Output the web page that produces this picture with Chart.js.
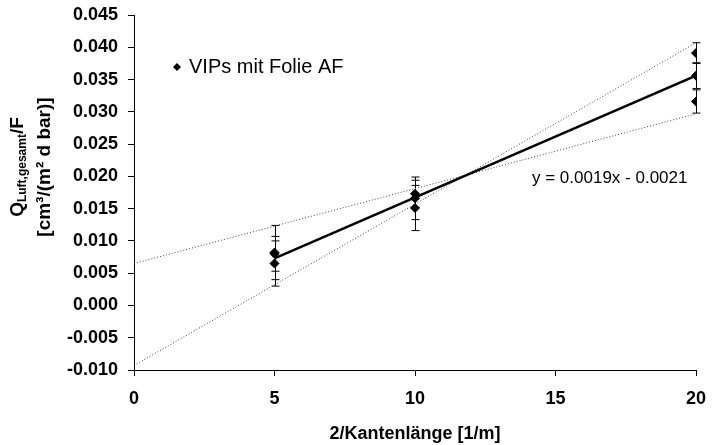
<!DOCTYPE html>
<html>
<head>
<meta charset="utf-8">
<script src="https://cdn.jsdelivr.net/npm/chart.js@4/dist/chart.umd.min.js"></script>
<style>
  html, body { margin: 0; padding: 0; background: #fff; }
  #wrap { width: 713px; height: 445px; }
</style>
</head>
<body>
<div id="wrap"><canvas id="chart" width="713" height="445"></canvas></div>
<script>
// measured points (3 samples per edge length) with their error bars
const xVals = [5, 5, 5, 10, 10, 10, 20, 20, 20];
const yVals = [0.0082, 0.0080, 0.0065, 0.0173, 0.0166, 0.0151, 0.0391, 0.0356, 0.0316];
const yErr = [0.0042, 0.0027, 0.0035, 0.0021, 0.0033, 0.0035, 0.0016, 0.0020, 0.0018];

// regression line and the two bounding (dotted) lines
const trendX = [5, 20];
const trendY = [0.0073, 0.0356];
const boundX = [0, 20];
const flatY = [0.0065, 0.0297];
const steepY = [-0.0093, 0.0407];

const xTicks = [0, 5, 10, 15, 20];
const yTicks = [-0.010, -0.005, 0.000, 0.005, 0.010, 0.015, 0.020, 0.025, 0.030, 0.035, 0.040, 0.045];

const legendLabel = 'VIPs mit Folie AF';
const equationText = 'y = 0.0019x - 0.0021';

const FONT = "'Liberation Sans', Arial, sans-serif";

function toPoints(xs, ys) {
    return xs.map((x, i) => ({ x: x, y: ys[i] }));
}

// vertical error bars with caps, drawn under the markers
const errorBars = {
    id: 'errorBars',
    beforeDatasetsDraw(chart) {
        const ctx = chart.ctx;
        const xs = chart.scales.x, ys = chart.scales.y;
        ctx.save();
        ctx.strokeStyle = '#000';
        ctx.lineWidth = 1;
        xVals.forEach((x, i) => {
            const px = Math.round(xs.getPixelForValue(x)) + 0.5;
            const top = ys.getPixelForValue(yVals[i] + yErr[i]);
            const bot = ys.getPixelForValue(yVals[i] - yErr[i]);
            ctx.beginPath();
            ctx.moveTo(px, top); ctx.lineTo(px, bot);
            ctx.moveTo(px - 4, top); ctx.lineTo(px + 4, top);
            ctx.moveTo(px - 4, bot); ctx.lineTo(px + 4, bot);
            ctx.stroke();
        });
        ctx.restore();
    }
};

// legend, equation and two-line y title with subscript
const annotations = {
    id: 'annotations',
    afterDraw(chart) {
        const ctx = chart.ctx;
        ctx.save();
        ctx.fillStyle = '#000';

        // legend
        const lx = 177, ly = 67;
        ctx.beginPath();
        ctx.moveTo(lx, ly - 4); ctx.lineTo(lx + 4, ly); ctx.lineTo(lx, ly + 4); ctx.lineTo(lx - 4, ly);
        ctx.closePath(); ctx.fill();
        ctx.font = '20px ' + FONT;
        ctx.textBaseline = 'middle';
        ctx.textAlign = 'left';
        ctx.fillText(legendLabel, 189, ly);

        // equation
        ctx.font = '17px ' + FONT;
        ctx.fillText(equationText, 532, 178);

        // y title
        const yc = 167;
        const parts = [
            { t: 'Q', f: 'bold 19px ' + FONT, dy: 0 },
            { t: 'Luft,gesamt', f: 'bold 12px ' + FONT, dy: 5 },
            { t: '/F', f: 'bold 19px ' + FONT, dy: 0 }
        ];
        let w = 0;
        parts.forEach(p => { ctx.font = p.f; p.w = ctx.measureText(p.t).width; w += p.w; });
        ctx.translate(18, yc);
        ctx.rotate(-Math.PI / 2);
        let cx = -w / 2;
        parts.forEach(p => { ctx.font = p.f; ctx.fillText(p.t, cx, p.dy); cx += p.w; });
        ctx.rotate(Math.PI / 2);
        ctx.translate(27, 0);
        ctx.rotate(-Math.PI / 2);
        ctx.font = 'bold 19px ' + FONT;
        ctx.textAlign = 'center';
        ctx.fillText('[cm³/(m² d bar)]', 0, 0);
        ctx.restore();
    }
};

const ctx = document.getElementById('chart').getContext('2d');
const chart = new Chart(ctx, {
    type: 'scatter',
    data: {
        datasets: [{
            label: legendLabel,
            data: toPoints(xVals, yVals),
            pointStyle: 'rectRot',
            pointRadius: 4.5,
            backgroundColor: '#000',
            borderColor: '#000',
            showLine: false
        }, {
            label: 'Trend',
            data: toPoints(trendX, trendY),
            showLine: true,
            borderColor: '#000',
            borderWidth: 2.5,
            pointRadius: 0
        }, {
            label: 'flat',
            data: toPoints(boundX, flatY),
            showLine: true,
            borderColor: '#444',
            borderWidth: 1,
            borderDash: [1, 2],
            pointRadius: 0
        }, {
            label: 'steep',
            data: toPoints(boundX, steepY),
            showLine: true,
            borderColor: '#444',
            borderWidth: 1,
            borderDash: [1, 2],
            pointRadius: 0
        }]
    },
    options: {
        responsive: false,
        animation: false,
        layout: { padding: { top: 15, right: 17, left: 0, bottom: 0 } },
        plugins: { legend: { display: false }, tooltip: { enabled: false } },
        scales: {
            x: {
                type: 'linear',
                min: 0,
                max: 20,
                // fixed axis box so the plot area matches the original
                afterFit: s => { s.height = 75; s.paddingLeft = 0; s.paddingRight = 0; },
                afterBuildTicks: s => { s.ticks = xTicks.map(v => ({ value: v })); },
                ticks: {
                    color: '#000',
                    padding: 12,
                    maxRotation: 0,
                    font: { family: FONT, size: 18, weight: 'bold' }
                },
                grid: { drawOnChartArea: false, drawTicks: true, tickLength: 6, color: '#000' },
                border: { display: true, color: '#000', width: 1 },
                title: {
                    display: true,
                    text: '2/Kantenlänge [1/m]',
                    color: '#000',
                    padding: { top: 0, bottom: 0 },
                    font: { family: FONT, size: 18, weight: 'bold' }
                }
            },
            y: {
                type: 'linear',
                min: -0.010,
                max: 0.045,
                afterFit: s => { s.width = 134; s.paddingTop = 0; s.paddingBottom = 0; },
                afterBuildTicks: s => { s.ticks = yTicks.map(v => ({ value: v })); },
                ticks: {
                    color: '#000',
                    padding: 10,
                    font: { family: FONT, size: 18, weight: 'bold' },
                    callback: v => (Math.abs(v) < 1e-9 ? 0 : v).toFixed(3)
                },
                grid: { drawOnChartArea: false, drawTicks: true, tickLength: 6, color: '#000' },
                border: { display: true, color: '#000', width: 1 }
            }
        }
    },
    plugins: [errorBars, annotations]
});
</script>
</body>
</html>
